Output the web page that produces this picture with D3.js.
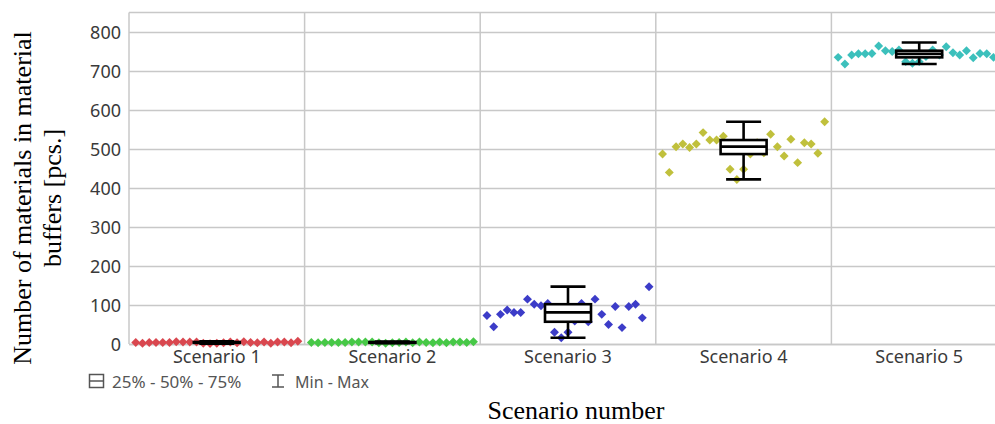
<!DOCTYPE html>
<html>
<head>
<meta charset="utf-8">
<script src="https://cdn.jsdelivr.net/npm/d3@7"></script>
<style>
  body { margin: 0; background: #fff; }
  svg { display: block; }
  .tick text { font-family: "Noto Sans", sans-serif; }
</style>
</head>
<body>
<svg id="chart" width="995" height="424"></svg>
<script>
// values, 25 runs per scenario
const scenarios = ['Scenario 1', 'Scenario 2', 'Scenario 3', 'Scenario 4', 'Scenario 5']
const scenario1 = [4, 2, 4, 4, 4, 4, 6, 5, 5, 5, 2, 1, 2, 3, 5, 3, 6, 4, 3, 5, 2, 5, 5, 3, 7]
const scenario2 = [4, 3, 4, 4, 4, 4, 5, 5, 5, 5, 3, 2, 3, 4, 5, 3, 5, 4, 3, 5, 3, 5, 5, 4, 6]
const scenario3 = [73, 44, 76, 87, 81, 81, 115, 102, 98, 104, 30, 16, 30, 59, 104, 57, 115, 76, 50, 96, 42, 96, 102, 67, 147]
const scenario4 = [487, 440, 506, 513, 504, 513, 542, 523, 523, 533, 448, 422, 448, 487, 516, 490, 538, 506, 482, 525, 465, 516, 513, 489, 570]
const scenario5 = [735, 718, 741, 744, 744, 745, 764, 752, 750, 754, 724, 720, 724, 737, 754, 741, 762, 747, 741, 752, 734, 745, 744, 735, 773]
const seriesValues = [scenario1, scenario2, scenario3, scenario4, scenario5]
const pointColors = ['#d9474f', '#47c847', '#3c3cc8', '#c0c03c', '#3cc0bc']
const yTicks = [0, 100, 200, 300, 400, 500, 600, 700, 800]

const svg = d3.select('#chart')

const plotLeft = 129, plotRight = 1007, plotTop = 12.5, plotBottom = 344

const x = d3.scaleBand().domain(scenarios).range([plotLeft, plotRight]).padding(0)
const y = d3.scaleLinear().domain([0, 850]).range([plotBottom, plotTop])

const gridColor = '#c8c8c8'

// horizontal grid + y labels
let yAxis = svg.append('g')
  .attr('transform', `translate(${plotLeft},0)`)
  .call(d3.axisLeft(y).tickValues(yTicks).tickSize(-(plotRight - plotLeft)).tickPadding(8))
yAxis.select('.domain').remove()
yAxis.selectAll('.tick line').attr('stroke', gridColor).attr('stroke-width', 1.5)
yAxis.selectAll('.tick text')
  .attr('font-size', 18).attr('fill', '#3a3a3a').attr('dy', '0.36em')

// vertical separators between scenarios
svg.append('g').selectAll('line')
  .data(scenarios)
  .join('line')
  .attr('x1', d => x(d)).attr('x2', d => x(d))
  .attr('y1', plotTop).attr('y2', plotBottom)
  .attr('stroke', gridColor).attr('stroke-width', 1.5)

svg.append('line')
  .attr('x1', plotLeft).attr('x2', plotRight)
  .attr('y1', plotTop).attr('y2', plotTop)
  .attr('stroke', gridColor).attr('stroke-width', 1.5)

// category labels
let xAxis = svg.append('g')
  .attr('transform', `translate(0,${plotBottom})`)
  .call(d3.axisBottom(x).tickSize(0).tickPadding(6))
xAxis.select('.domain').attr('stroke', gridColor).attr('stroke-width', 1.5)
xAxis.selectAll('.tick text').attr('font-size', 18).attr('fill', '#3a3a3a').attr('dy', '0.72em')

// points
const diamond = d3.symbol(d3.symbolSquare, 40)
const bw = x.bandwidth()

seriesValues.forEach(function(vals, s) {
  let n = vals.length
  svg.append('g').selectAll('path')
    .data(vals)
    .join('path')
    .attr('d', diamond)
    .attr('transform', (d, i) => `translate(${x(scenarios[s]) + (i + 1) * bw / (n + 1)},${y(d)}) rotate(45)`)
    .attr('fill', pointColors[s])
})

// boxes
const boxW = 46, capW = 35

seriesValues.forEach(function(vals, s) {
  let sorted = vals.slice().sort(d3.ascending)
  let q1 = d3.quantile(sorted, 0.25)
  let med = d3.quantile(sorted, 0.5)
  let q3 = d3.quantile(sorted, 0.75)
  let mn = d3.min(sorted), mx = d3.max(sorted)
  let cx = x(scenarios[s]) + bw / 2
  let g = svg.append('g').attr('stroke', '#000').attr('stroke-width', 2.6).attr('fill', 'none')

  g.append('line').attr('x1', cx).attr('x2', cx).attr('y1', y(mx)).attr('y2', y(q3))
  g.append('line').attr('x1', cx).attr('x2', cx).attr('y1', y(q1)).attr('y2', y(mn))
  g.append('line').attr('x1', cx - capW / 2).attr('x2', cx + capW / 2).attr('y1', y(mx)).attr('y2', y(mx))
  g.append('line').attr('x1', cx - capW / 2).attr('x2', cx + capW / 2).attr('y1', y(mn)).attr('y2', y(mn))
  g.append('rect')
    .attr('x', cx - boxW / 2).attr('width', boxW)
    .attr('y', y(q3)).attr('height', y(q1) - y(q3))
    .attr('fill', '#fff')
  g.append('line').attr('x1', cx - boxW / 2).attr('x2', cx + boxW / 2).attr('y1', y(med)).attr('y2', y(med))
})

// legend
let legend = svg.append('g').attr('stroke', '#555').attr('stroke-width', 1.5).attr('fill', 'none')
legend.append('rect').attr('x', 89.5).attr('y', 374.5).attr('width', 14).attr('height', 13)
legend.append('line').attr('x1', 89.5).attr('x2', 103.5).attr('y1', 381).attr('y2', 381)
legend.append('line').attr('x1', 272).attr('x2', 284).attr('y1', 375).attr('y2', 375)
legend.append('line').attr('x1', 272).attr('x2', 284).attr('y1', 387).attr('y2', 387)
legend.append('line').attr('x1', 278).attr('x2', 278).attr('y1', 375).attr('y2', 387)

svg.append('text').attr('x', 112).attr('y', 387.5)
  .attr('font-family', '"Noto Sans", sans-serif').attr('font-size', 17).attr('fill', '#555')
  .text('25% - 50% - 75%')
svg.append('text').attr('x', 295).attr('y', 387.5)
  .attr('font-family', '"Noto Sans", sans-serif').attr('font-size', 16).attr('fill', '#555')
  .text('Min - Max')

// axis titles
svg.append('text')
  .attr('x', 576).attr('y', 419)
  .attr('text-anchor', 'middle')
  .attr('font-family', '"Liberation Serif", "Times New Roman", serif').attr('font-size', 26)
  .text('Scenario number')

let yTitle = svg.append('text')
  .attr('transform', 'translate(31,198) rotate(-90)')
  .attr('text-anchor', 'middle')
  .attr('font-family', '"Liberation Serif", "Times New Roman", serif').attr('font-size', 26)
yTitle.append('tspan').attr('x', 0).attr('y', 0).text('Number of materials in material')
yTitle.append('tspan').attr('x', 0).attr('y', 30).text('buffers [pcs.]')
</script>
</body>
</html>
